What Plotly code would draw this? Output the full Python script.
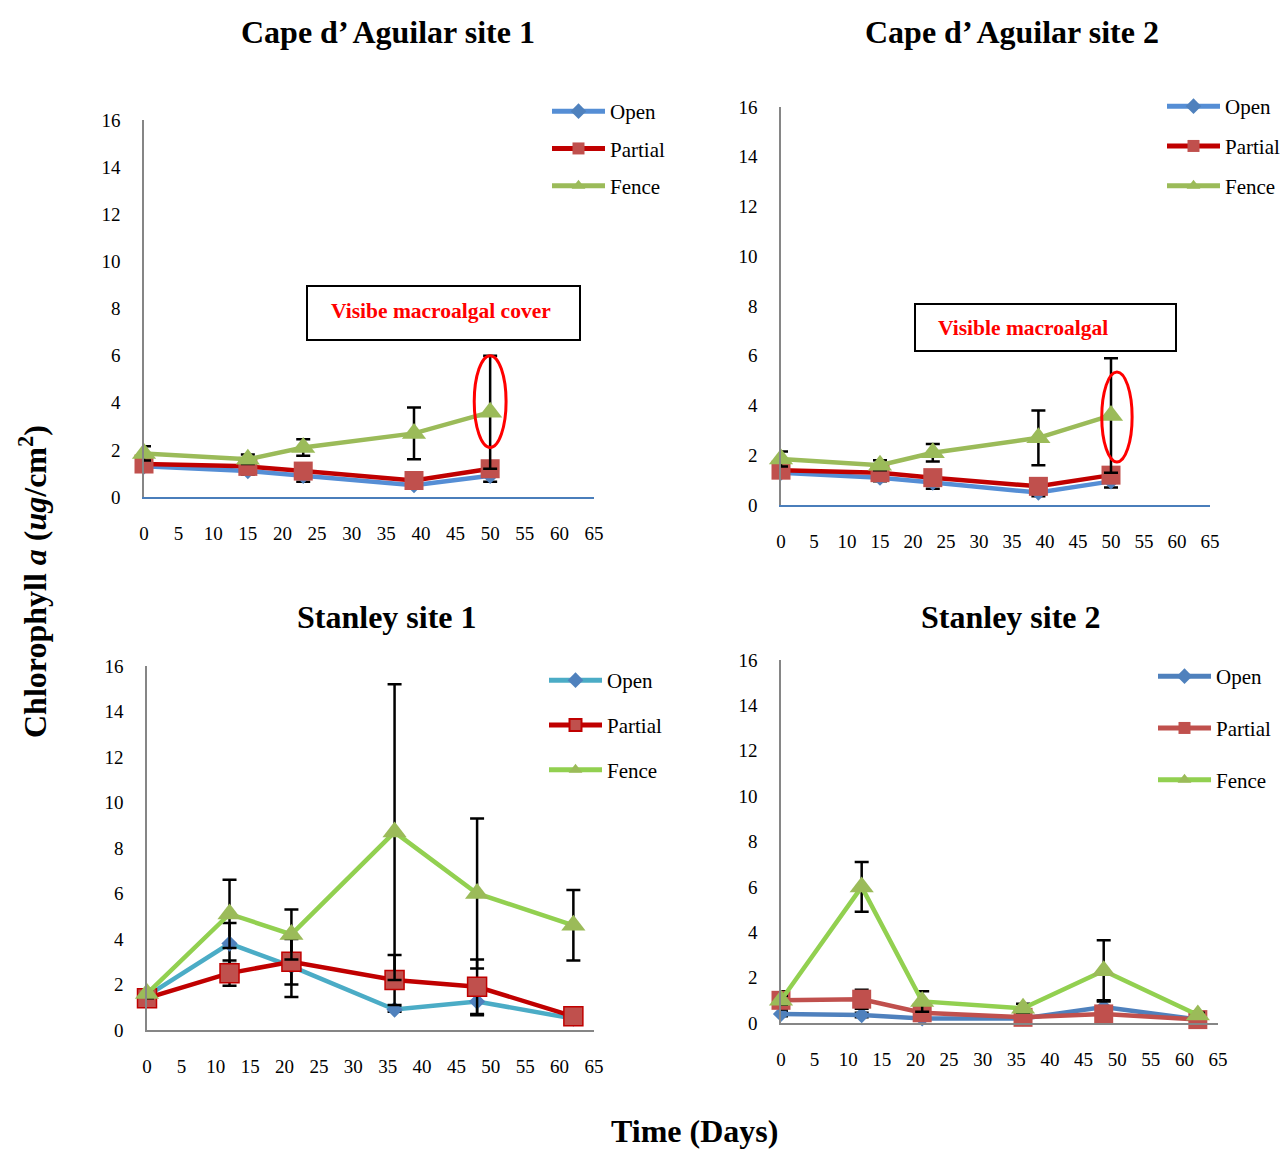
import plotly.graph_objects as go

W, H = 1281, 1149

# ---- data: chlorophyll a (ug/cm2), mean and error per treatment ----
series_names = ["Open", "Partial", "Fence"]

cape1_days = [0, 15, 23, 39, 50]
cape1_open = [1.3, 1.1, 0.9, 0.5, 0.9]
cape1_open_err = [0.15, 0.15, 0.25, 0.15, 0.25]
cape1_partial = [1.4, 1.3, 1.1, 0.7, 1.2]
cape1_partial_err = [0.15, 0.15, 0.2, 0.15, 0.2]
cape1_fence = [1.85, 1.6, 2.1, 2.7, 3.6]
cape1_fence_err = [0.3, 0.2, 0.35, 1.1, 2.4]

cape2_days = [0, 15, 23, 39, 50]
cape2_open = [1.3, 1.1, 0.9, 0.5, 0.95]
cape2_open_err = [0.15, 0.15, 0.25, 0.15, 0.25]
cape2_partial = [1.4, 1.3, 1.1, 0.75, 1.2]
cape2_partial_err = [0.15, 0.15, 0.2, 0.15, 0.2]
cape2_fence = [1.85, 1.6, 2.1, 2.7, 3.6]
cape2_fence_err = [0.3, 0.2, 0.35, 1.1, 2.3]

stan1_days = [0, 12, 21, 36, 48, 62]
stan1_open = [1.5, 3.8, 2.8, 0.9, 1.25, 0.5]
stan1_open_err = [0.3, 0.9, 1.35, 0.1, 0.6, 0.1]
stan1_partial = [1.4, 2.5, 3.0, 2.2, 1.9, 0.6]
stan1_partial_err = [0.2, 0.55, 1.0, 1.1, 1.2, 0.1]
stan1_fence = [1.6, 5.1, 4.2, 8.7, 6.0, 4.6]
stan1_fence_err = [0.2, 1.5, 1.1, 6.5, 3.3, 1.55]

stan2_days = [0, 12, 21, 36, 48, 62]
stan2_open = [0.4, 0.35, 0.2, 0.2, 0.7, 0.15]
stan2_open_err = [0.1, 0.1, 0.1, 0.1, 0.3, 0.05]
stan2_partial = [1.0, 1.05, 0.45, 0.25, 0.4, 0.15]
stan2_partial_err = [0.4, 0.42, 0.1, 0.1, 0.2, 0.05]
stan2_fence = [1.0, 6.0, 0.95, 0.65, 2.3, 0.35]
stan2_fence_err = [0.2, 1.1, 0.45, 0.2, 1.35, 0.1]

panel_titles = ["Cape d\u2019 Aguilar site 1", "Cape d\u2019 Aguilar site 2",
                "Stanley site 1", "Stanley site 2"]
x_ticks = list(range(0, 70, 5))
y_ticks = list(range(0, 18, 2))

FONT = "Liberation Serif, Times New Roman, serif"


def px_x(p):
    return p / W


def px_y(p):
    return 1 - p / H


# panel geometry in pixels: (x0, x1, ytop, ybottom)
panels = [
    (144, 594, 120, 497),
    (781, 1210, 107, 505),
    (147, 594, 666, 1030),
    (781, 1218, 660, 1023),
]

# line colour, marker colour, marker border per series for each panel
styles = [
    [("#558ED5", "#4F81BD", None), ("#C00000", "#C0504D", None), ("#9BBB59", "#9BBB59", None)],
    [("#558ED5", "#4F81BD", None), ("#C00000", "#C0504D", None), ("#9BBB59", "#9BBB59", None)],
    [("#4BACC6", "#4F81BD", None), ("#C00000", "#C0504D", "#C00000"), ("#92D050", "#9BBB59", None)],
    [("#4F81BD", "#4F81BD", None), ("#C0504D", "#C0504D", None), ("#92D050", "#9BBB59", None)],
]
xline_colors = ["#4A7EBB", "#4A7EBB", "#868686", "#868686"]

data = [
    (cape1_days, [(cape1_open, cape1_open_err), (cape1_partial, cape1_partial_err), (cape1_fence, cape1_fence_err)]),
    (cape2_days, [(cape2_open, cape2_open_err), (cape2_partial, cape2_partial_err), (cape2_fence, cape2_fence_err)]),
    (stan1_days, [(stan1_open, stan1_open_err), (stan1_partial, stan1_partial_err), (stan1_fence, stan1_fence_err)]),
    (stan2_days, [(stan2_open, stan2_open_err), (stan2_partial, stan2_partial_err), (stan2_fence, stan2_fence_err)]),
]

symbols = ["diamond", "square", "triangle-up"]
marker_sizes = [12.5, 19, 21]

# legend placement (px) and spacing per panel
legend_pos = [(547, 91, 7), (1162, 86, 9.5), (544, 660, 14.5), (1153, 656, 21.5)]

fig = go.Figure()
layout = dict(
    width=W, height=H,
    margin=dict(l=0, r=0, t=0, b=0, autoexpand=False),
    paper_bgcolor="white", plot_bgcolor="white",
    font=dict(family=FONT, size=19, color="black"),
    showlegend=True,
)

for i, (days, series) in enumerate(data):
    k = "" if i == 0 else str(i + 1)
    xa, ya = "x" + k, "y" + k
    lg = "legend" + k
    for j, (vals, errs) in enumerate(series):
        lc, mc, mb = styles[i][j]
        fig.add_trace(go.Scatter(
            x=days, y=vals, name=series_names[j],
            mode="lines+markers",
            xaxis=xa, yaxis=ya, legend=lg, legendgroup=f"{i}-{j}",
            line=dict(color=lc, width=4.5),
            marker=dict(symbol=symbols[j], size=marker_sizes[j], color=mc,
                        line=dict(color=mb or mc, width=1.5 if mb else 0)),
            error_y=dict(type="data", array=errs, visible=True,
                         color="black", thickness=2.5, width=7),
            cliponaxis=False,
        ))
    x0, x1, yt, yb = panels[i]
    layout["xaxis" + k] = dict(
        domain=[px_x(x0), px_x(x1)], anchor=ya, range=[0, 65],
        tickvals=x_ticks, showgrid=False, zeroline=False,
        showline=True, linecolor=xline_colors[i], linewidth=2,
        ticks="", ticklabelstandoff=18, fixedrange=True,
    )
    layout["yaxis" + k] = dict(
        domain=[px_y(yb), px_y(yt)], anchor=xa, range=[0, 16],
        tickvals=y_ticks, showgrid=False, zeroline=False,
        showline=True, linecolor="#868686", linewidth=1.5,
        ticks="", ticklabelstandoff=18, fixedrange=True,
    )
    lx, ly, gap = legend_pos[i]
    layout[lg] = dict(
        x=px_x(lx), y=px_y(ly), xanchor="left", yanchor="top",
        itemwidth=53, itemsizing="constant", tracegroupgap=gap,
        traceorder="grouped", bgcolor="rgba(0,0,0,0)",
        font=dict(family=FONT, size=21, color="black"),
    )

fig.update_layout(**layout)

# panel titles
title_pos = [(388, 32), (1012, 32), (387, 617), (1011, 617)]
for t, (tx, ty) in zip(panel_titles, title_pos):
    fig.add_annotation(text="<b>%s</b>" % t, x=px_x(tx), y=px_y(ty),
                       xref="paper", yref="paper", xanchor="center", yanchor="middle",
                       showarrow=False, font=dict(family=FONT, size=32, color="black"))

# shared axis titles
fig.add_annotation(text="<b>Chlorophyll <i>a</i> (<i>ug</i>/cm<sup>2</sup>)</b>",
                   x=px_x(33), y=px_y(582), xref="paper", yref="paper",
                   xanchor="center", yanchor="middle",
                   textangle=-90, showarrow=False,
                   font=dict(family=FONT, size=32, color="black"))
fig.add_annotation(text="<b>Time (Days)</b>", x=px_x(694), y=px_y(1131),
                   xref="paper", yref="paper", xanchor="center", yanchor="middle",
                   showarrow=False, font=dict(family=FONT, size=32, color="black"))

# macroalgal cover call-out boxes
boxes = [((307, 286, 580, 340), (329, 311), "Visibe macroalgal cover"),
         ((915, 304, 1176, 351), (936, 328), "Visible macroalgal")]
for (bx0, by0, bx1, by1), (tx, ty), txt in boxes:
    fig.add_shape(type="rect", xref="paper", yref="paper",
                  x0=px_x(bx0), x1=px_x(bx1), y0=px_y(by1), y1=px_y(by0),
                  line=dict(color="black", width=2), fillcolor="white", layer="below")
    fig.add_annotation(text="<b>%s</b>" % txt, x=px_x(tx), y=px_y(ty),
                       xref="paper", yref="paper", xanchor="left", yanchor="middle",
                       showarrow=False, font=dict(family=FONT, size=21.5, color="#FF0000"))

# red ellipses highlighting the day-50 fence values
fig.add_shape(type="circle", xref="x", yref="y", x0=47.7, x1=52.3, y0=2.1, y1=6.0,
              line=dict(color="#FF0000", width=3))
fig.add_shape(type="circle", xref="x2", yref="y2", x0=48.6, x1=53.2, y0=1.73, y1=5.35,
              line=dict(color="#FF0000", width=3))

fig.write_html("out.html")
